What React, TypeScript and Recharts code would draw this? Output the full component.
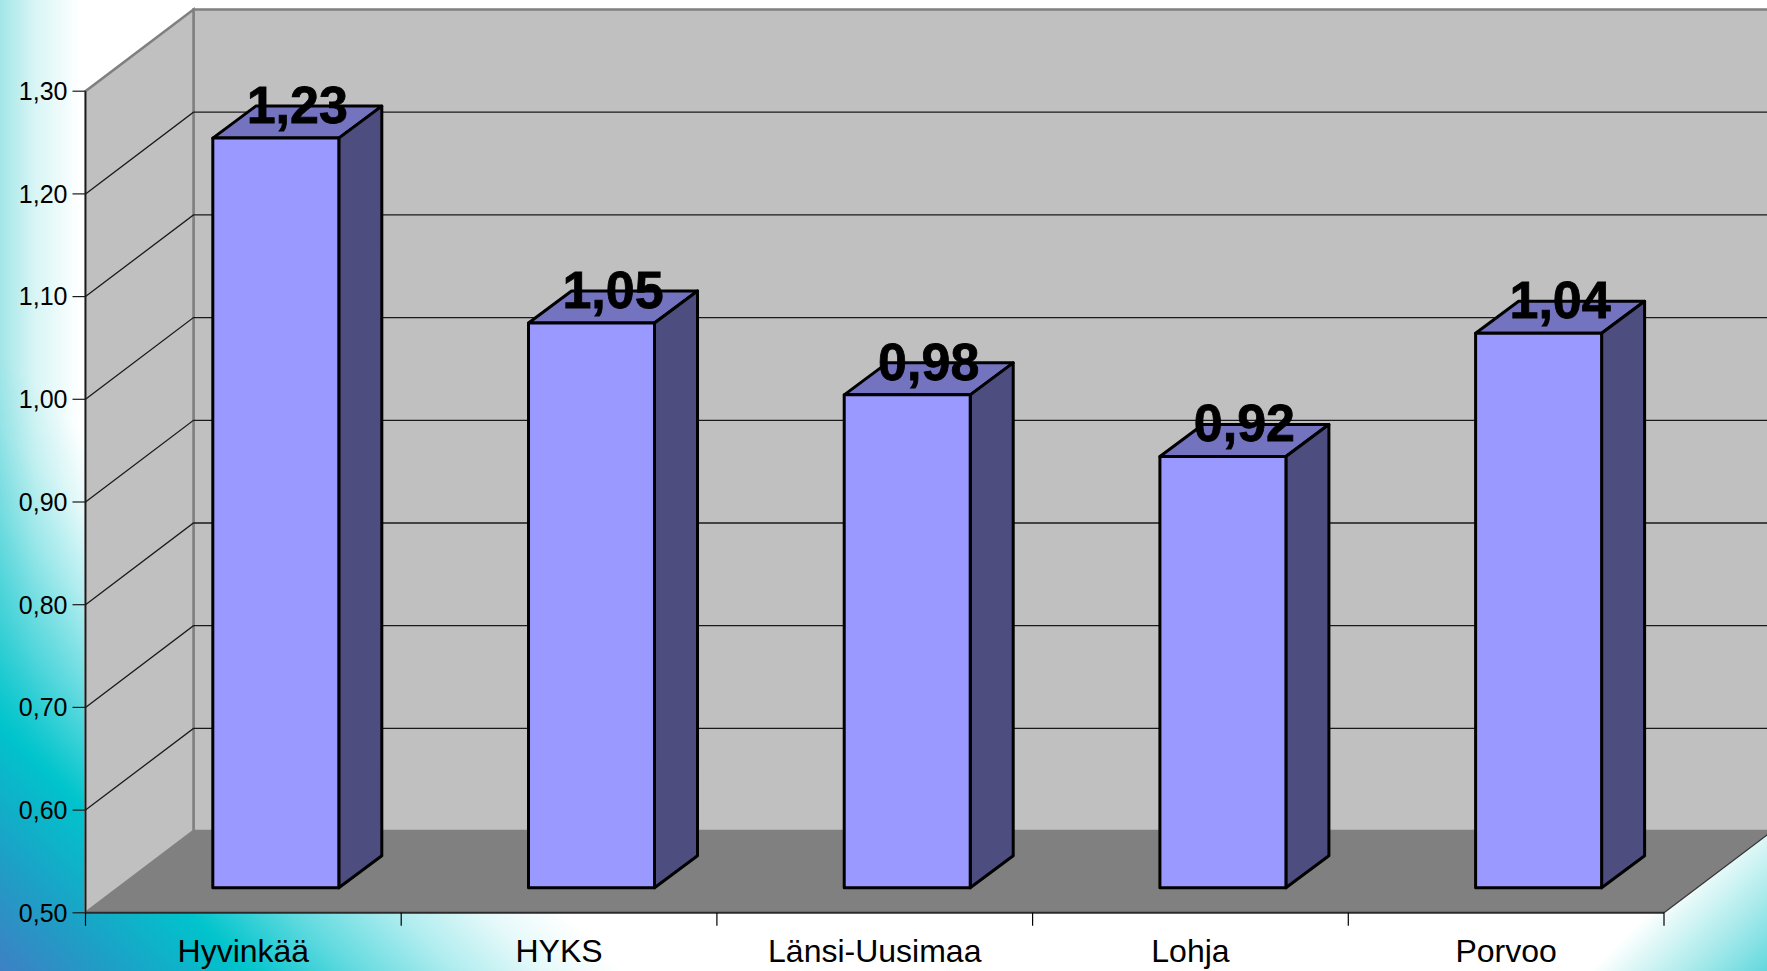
import React from 'react';
import { BarChart, Bar, XAxis, YAxis, CartesianGrid, LabelList } from 'recharts';

const hospitals = ['Hyvinkää', 'HYKS', 'Länsi-Uusimaa', 'Lohja', 'Porvoo'];
const ratios = [1.23, 1.05, 0.98, 0.92, 1.04];
const yTicks = [0.5, 0.6, 0.7, 0.8, 0.9, 1.0, 1.1, 1.2, 1.3];

const data = hospitals.map((name, i) => ({ name, ratio: ratios[i] }));

const W = 1767;
const H = 971;
const LEFT = 85.5;
const RIGHT = 1664;
const TOP = 91.2;
const BOTTOM = 912.8;
const BAND = (RIGHT - LEFT) / hospitals.length;

// box depth of the fake 3d floor/walls and of the bars
const WALL_DX = 108;
const WALL_DY = 81.7;
const BAR_SHIFT_X = 32.6;
const BAR_SHIFT_Y = 25;
const BAR_DX = 43;
const BAR_DY = 32;

const fmt = (v: number) => v.toFixed(2).replace('.', ',');

const background = [
  'linear-gradient(45deg, #3E80C4 0px, #1E9FC6 80px, #00C4CC 175px, rgba(0,196,204,0.62) 250px, rgba(0,196,204,0.3) 325px, rgba(0,196,204,0.1) 385px, rgba(0,196,204,0) 440px)',
  'linear-gradient(315deg, #62D8DE 0px, #B0ECEC 60px, rgba(255,255,255,0) 125px)',
  'linear-gradient(to right, #A3E6E8 0px, #D8F5F5 35px, rgba(255,255,255,0) 80px)',
].join(', ');

function Walls() {
  const pts = (list: number[][]) => list.map(p => p.join(',')).join(' ');
  return (
    <svg width={W} height={H} style={{ position: 'absolute', left: 0, top: 0 }}>
      <polygon
        points={pts([[LEFT + WALL_DX, TOP - WALL_DY], [W + 10, TOP - WALL_DY], [W + 10, BOTTOM - WALL_DY], [LEFT + WALL_DX, BOTTOM - WALL_DY]])}
        fill="#C0C0C0"
        stroke="#808080"
        strokeWidth={2.5}
      />
      <polygon
        points={pts([[LEFT, BOTTOM], [LEFT, TOP], [LEFT + WALL_DX, TOP - WALL_DY], [LEFT + WALL_DX, BOTTOM - WALL_DY]])}
        fill="#C0C0C0"
        stroke="#808080"
        strokeWidth={2.5}
      />
      <polygon
        points={pts([[LEFT, BOTTOM], [RIGHT, BOTTOM], [RIGHT + WALL_DX, BOTTOM - WALL_DY], [LEFT + WALL_DX, BOTTOM - WALL_DY]])}
        fill="#808080"
      />
      <line x1={RIGHT} y1={BOTTOM} x2={RIGHT + WALL_DX} y2={BOTTOM - WALL_DY} stroke="#333" strokeWidth={1.2} />
    </svg>
  );
}

function GridLine(props: any) {
  const { x1, y1, x2, y2 } = props;
  // first and last tick sit on the wall edges, no line there
  if (y1 < TOP + 1 || y1 > BOTTOM - 1) return <g />;
  return (
    <path
      d={`M${x1},${y1} L${x1 + WALL_DX},${y1 - WALL_DY} L${x2 + WALL_DX},${y2 - WALL_DY}`}
      fill="none"
      stroke="#1a1a1a"
      strokeWidth={1.3}
    />
  );
}

function Box3D(props: any) {
  const { x, y, width, height } = props;
  const left = x + BAR_SHIFT_X;
  const top = y - BAR_SHIFT_Y;
  const right = left + width;
  const bottom = top + height;
  return (
    <g stroke="#000" strokeWidth={3} strokeLinejoin="round">
      <polygon
        points={`${left},${top} ${left + BAR_DX},${top - BAR_DY} ${right + BAR_DX},${top - BAR_DY} ${right},${top}`}
        fill="#7373BF"
      />
      <polygon
        points={`${right},${top} ${right + BAR_DX},${top - BAR_DY} ${right + BAR_DX},${bottom - BAR_DY} ${right},${bottom}`}
        fill="#4D4D80"
      />
      <rect x={left} y={top} width={width} height={height} fill="#9999FF" />
    </g>
  );
}

function ValueLabel(props: any) {
  const { x, y, width, value } = props;
  return (
    <text
      x={x + width / 2 + BAR_SHIFT_X + BAR_DX / 2}
      y={y - BAR_SHIFT_Y - 15}
      textAnchor="middle"
      fontFamily="Liberation Sans"
      fontWeight="bold"
      fontSize={52}
      fill="#000"
      stroke="#000"
      strokeWidth={0.8}
    >
      {fmt(value)}
    </text>
  );
}

function CategoryTick(props: any) {
  const { x, payload, index } = props;
  const edge = x - BAND / 2;
  return (
    <g>
      <line x1={edge} y1={BOTTOM} x2={edge} y2={BOTTOM + 13} stroke="#000" strokeWidth={1.2} />
      {index === hospitals.length - 1 && (
        <line x1={edge + BAND} y1={BOTTOM} x2={edge + BAND} y2={BOTTOM + 13} stroke="#000" strokeWidth={1.2} />
      )}
      <text x={x} y={BOTTOM + 49} textAnchor="middle" fontFamily="Liberation Sans" fontSize={32} fill="#000">
        {payload.value}
      </text>
    </g>
  );
}

export default function App() {
  return (
    <div style={{ position: 'absolute', left: 0, top: 0, width: W, height: H, overflow: 'hidden', background: '#fff', backgroundImage: background }}>
      <Walls />
      <div style={{ position: 'absolute', left: 0, top: 0 }}>
        <BarChart
          width={W}
          height={H}
          data={data}
          barCategoryGap="30%"
          margin={{ top: TOP, right: W - RIGHT, bottom: 0, left: 0 }}
        >
          <CartesianGrid vertical={false} horizontal={(p: any) => <GridLine key={p.key ?? p.index} {...p} />} />
          <XAxis
            dataKey="name"
            height={H - BOTTOM}
            interval={0}
            tickLine={false}
            axisLine={{ stroke: '#2a2a2a', strokeWidth: 2 }}
            tick={<CategoryTick />}
          />
          <YAxis
            width={LEFT}
            domain={[0.5, 1.3]}
            ticks={yTicks}
            interval={0}
            allowDataOverflow
            tickSize={13}
            tickMargin={5}
            tickFormatter={fmt}
            axisLine={{ stroke: '#1a1a1a', strokeWidth: 1.5 }}
            tickLine={{ stroke: '#1a1a1a', strokeWidth: 1.2 }}
            tick={{ fontFamily: 'Liberation Sans', fontSize: 25, fill: '#000' }}
          />
          <Bar dataKey="ratio" shape={<Box3D />} isAnimationActive={false}>
            <LabelList dataKey="ratio" content={<ValueLabel />} />
          </Bar>
        </BarChart>
      </div>
    </div>
  );
}
